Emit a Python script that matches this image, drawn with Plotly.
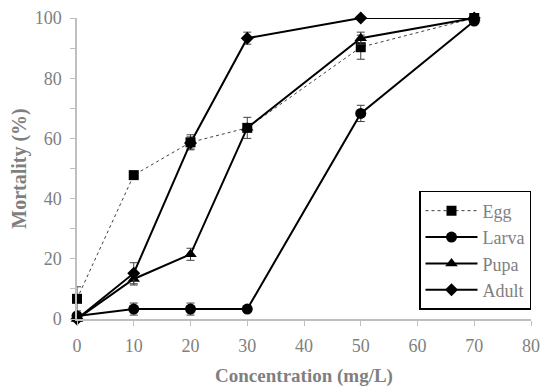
import plotly.graph_objects as go

conc = [0, 10, 20, 30, 50, 70]
egg = [6.7, 47.8, 58.7, 63.5, 90.3, 100]
egg_err = [4, 0, 2.5, 3.5, 4, 0]
larva = [1, 3.3, 3.3, 3.3, 68.3, 99]
larva_err = [0, 2, 2, 0, 2.7, 0]
pupa = [0, 13.3, 21.5, 63.5, 93.3, 100]
pupa_err = [0, 2, 2, 0, 2, 0]
adult = [0, 15.2, 58.5, 93.3, 100, 100]
adult_err = [0, 3.5, 2, 2, 0, 0]

series = [
    ("Egg", egg, egg_err, "square", 10, dict(color="#404040", width=1, dash="dot")),
    ("Larva", larva, larva_err, "circle", 11, dict(color="black", width=2)),
    ("Pupa", pupa, pupa_err, "triangle-up", 11, dict(color="black", width=2)),
    ("Adult", adult, adult_err, "diamond", 10, dict(color="black", width=2)),
]

fig = go.Figure()
for name, ys, err, sym, sz, line in series:
    fig.add_trace(go.Scatter(
        x=conc, y=ys, name=name, mode="lines+markers", legendgroup=name,
        line=line, cliponaxis=False,
        marker=dict(symbol=sym, size=sz, color="black"),
        error_y=dict(type="data", array=err, visible=True, color="#404040", thickness=1, width=4),
    ))

font = "Liberation Serif, DejaVu Serif, serif"
fig.update_layout(
    width=550, height=390,
    margin=dict(l=69, r=27, t=10, b=79),
    paper_bgcolor="white", plot_bgcolor="white",
    font=dict(family=font, color="#7f7f7f", size=18),
    showlegend=True,
    legend=dict(
        x=1.0, y=0.03, xanchor="right", yanchor="bottom",
        bordercolor="black", borderwidth=1.5, bgcolor="white",
        font=dict(size=18, color="#7f7f7f"),
        tracegroupgap=0, itemwidth=52,
    ),
    xaxis=dict(
        range=[0, 80], dtick=10, tick0=0, automargin=False,
        showline=True, linecolor="#bfbfbf", linewidth=1.5,
        ticks="outside", tickcolor="#bfbfbf", ticklen=5, ticklabelstandoff=5,
        showgrid=False, zeroline=False,
        title=dict(text="<b>Concentration (mg/L)</b>", font=dict(size=19, color="#7f7f7f"), standoff=13),
    ),
    yaxis=dict(
        range=[0, 100], dtick=20, tick0=0, automargin=False,
        showline=True, linecolor="#bfbfbf", linewidth=1.5,
        ticks="outside", tickcolor="#bfbfbf", ticklen=5, ticklabelstandoff=5,
        minor=dict(dtick=10, ticks="outside", ticklen=5, tickcolor="#bfbfbf"),
        showgrid=False, zeroline=False,
        title=dict(text="<b>Mortality (%)</b>", font=dict(size=20, color="#7f7f7f"), standoff=8),
    ),
)

fig.write_html("out.html")
